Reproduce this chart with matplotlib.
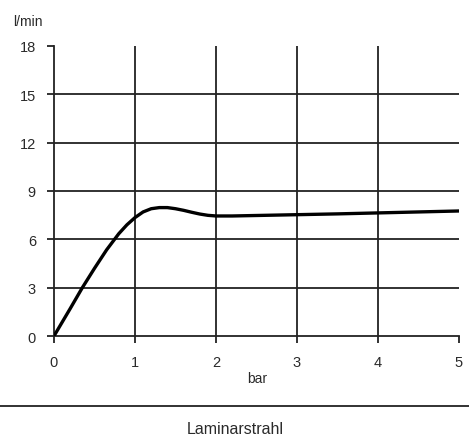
import matplotlib
matplotlib.use("Agg")
import matplotlib.pyplot as plt
from matplotlib.lines import Line2D

plt.rcParams['font.family'] = ['Liberation Sans', 'DejaVu Sans']

pressure = [0, 0.1, 0.2, 0.35, 0.5, 0.65, 0.8, 0.9, 1.0, 1.1, 1.2, 1.3, 1.4, 1.5, 1.6, 1.7, 1.8, 1.9, 2.0, 2.2, 2.5, 3.0, 3.5, 4.0, 4.5, 5.0]
flow = [0, 0.85, 1.7, 3.0, 4.2, 5.35, 6.35, 6.9, 7.35, 7.7, 7.9, 7.97, 7.97, 7.9, 7.8, 7.68, 7.57, 7.49, 7.45, 7.45, 7.48, 7.53, 7.58, 7.64, 7.7, 7.76]

xticks = [0, 1, 2, 3, 4, 5]
yticks = [0, 3, 6, 9, 12, 15, 18]

fig = plt.figure(figsize=(4.69, 4.39), dpi=100)
ax = fig.add_axes([0.1151, 0.2323, 0.8636, 0.6607])

gc = '#222222'
tc = '#2a2a2a'
for xv in xticks[1:-1]:
    ax.axvline(xv, color=gc, lw=1.3, zorder=1)
ax.hlines(yticks[1:-1], xticks[0], xticks[-1], color=gc, lw=1.3, zorder=1)

ax.plot(pressure, flow, color='black', lw=2.4, solid_capstyle='round', zorder=3)

ax.set_xlim(0, 5)
ax.set_ylim(0, 18)
ax.set_xticks(xticks)
ax.set_yticks(yticks)
for s in ['top', 'right']:
    ax.spines[s].set_visible(False)
for s in ['left', 'bottom']:
    ax.spines[s].set_color(gc)
    ax.spines[s].set_linewidth(1.3)
ax.tick_params(direction='out', length=5, width=1.3, color=gc, labelsize=10.5,
               labelcolor=tc, pad=8)
ax.tick_params(axis='x', pad=9)

fig.text(28/469, 1 - 22/439, 'l/min', ha='center', va='center', fontsize=10, color=tc)
fig.text(257/469, 1 - 379/439, 'bar', ha='center', va='center', fontsize=10, color=tc)
fig.add_artist(Line2D([0, 1], [1 - 407/439, 1 - 407/439], color=gc, lw=1.3, transform=fig.transFigure))
fig.text(235/469, 1 - 430/439, 'Laminarstrahl', ha='center', va='center', fontsize=11.5, color=tc)

fig.savefig('out.png', dpi=100)
